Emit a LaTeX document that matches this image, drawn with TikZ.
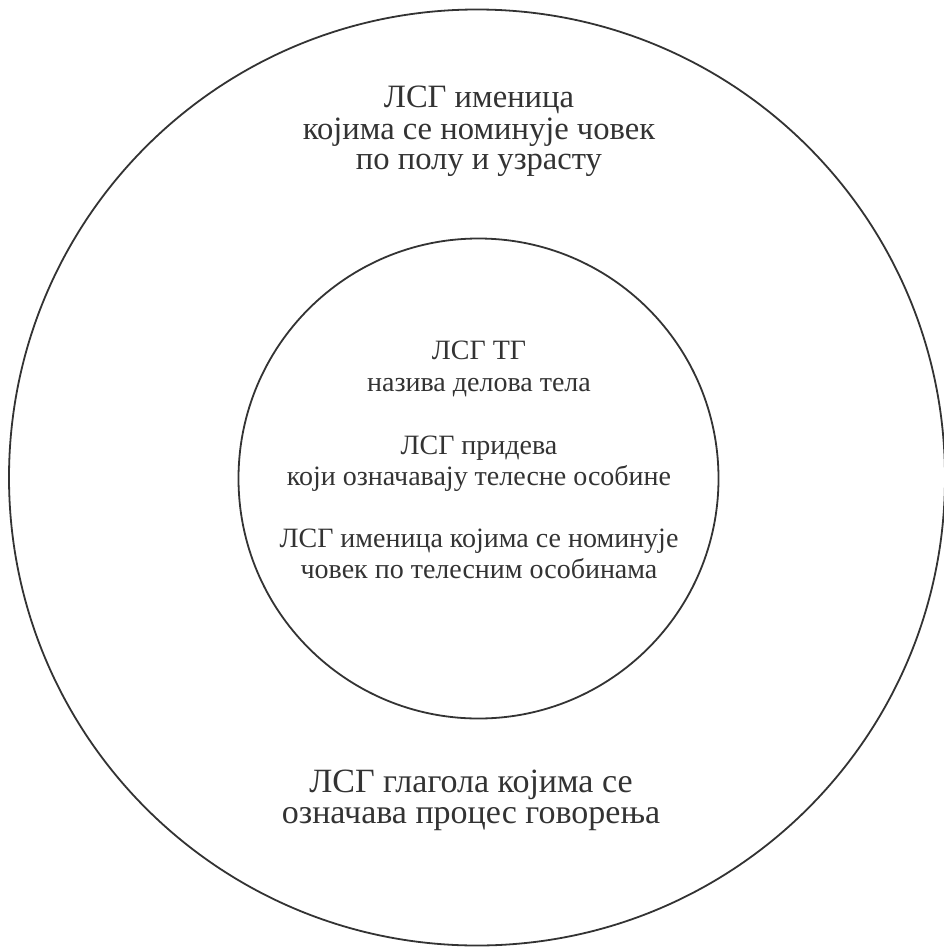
\documentclass[tikz,border=0pt]{standalone}
\usepackage{fontspec}
\setmainfont{Liberation Serif}
\begin{document}
\begin{tikzpicture}[x=1bp,y=-1bp,
  ring/.style={draw=black!80,line width=1.8bp},
  txt/.style={anchor=base,inner sep=0pt,text=black!80,text height=0.66em,text depth=0.2em},
  toptxt/.style={txt,font=\fontsize{32.6bp}{32bp}\selectfont},
  bottxt/.style={txt,font=\fontsize{34bp}{32bp}\selectfont},
  smalltxt/.style={txt,font=\fontsize{28bp}{31bp}\selectfont}]
  \useasboundingbox[fill=white] (0,0) rectangle (944,947);
  % two concentric rings
  \draw[ring] (477,477.5) circle[radius=468];
  \draw[ring] (478.5,478.5) circle[radius=240];
  % outer ring, upper label
  \node[toptxt] (o1) at (479,107) {ЛСГ именица};
  \node[toptxt] (o2) at (479,139) {којима се номинује човек};
  \node[toptxt] (o3) at (479,169) {по полу и узрасту};
  % outer ring, lower label
  \node[bottxt] (o4) at (471,792) {ЛСГ глагола којима се};
  \node[bottxt] (o5) at (471,823) {означава процес говорења};
  % inner ring labels
  \node[smalltxt] (i1) at (479,359) {ЛСГ ТГ};
  \node[smalltxt] (i2) at (479,391) {назива делова тела};
  \node[smalltxt] (i3) at (479,454) {ЛСГ придева};
  \node[smalltxt] (i4) at (479,485) {који означавају телесне особине};
  \node[smalltxt] (i5) at (479,547) {ЛСГ именица којима се номинује};
  \node[smalltxt] (i6) at (479,578) {човек по телесним особинама};
\end{tikzpicture}
\end{document}
